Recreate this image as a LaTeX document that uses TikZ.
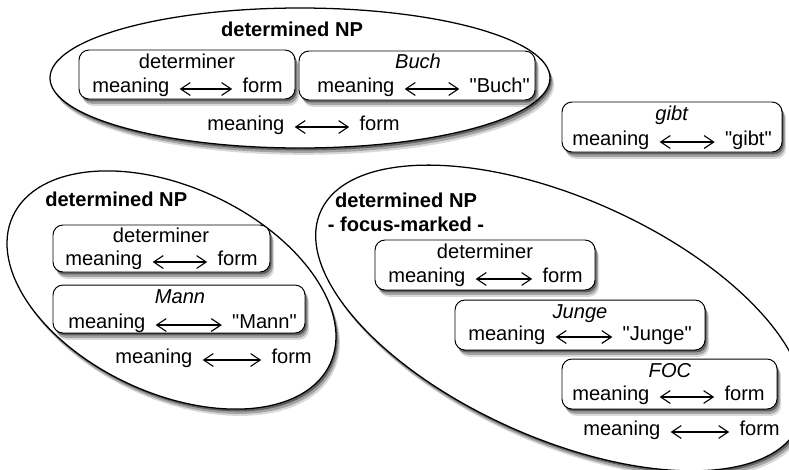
\documentclass[tikz,border=0pt]{standalone}
\usepackage{fontspec}
\setmainfont{Liberation Sans}[Ligatures=TeXOff]
\usetikzlibrary{shapes.geometric,shadows,arrows.meta}

\def\pu{0.025cm}

\tikzset{
  softshadow/.style={
    drop shadow={shadow xshift=1.0mm, shadow yshift=-1.7mm, opacity=0.15, fill=black},
    drop shadow={shadow xshift=0.7mm, shadow yshift=-1.2mm, opacity=0.25, fill=black},
    drop shadow={shadow xshift=0.4mm, shadow yshift=-0.6mm, opacity=0.4, fill=black}},
  blob/.style={ellipse, draw, line width=0.9pt, fill=white, inner sep=0pt, softshadow},
  unitbox/.style={rectangle, draw, rounded corners=10*\pu, line width=0.7pt,
    fill=white, inner sep=0pt, softshadow},
  txt/.style={inner sep=0pt, yshift=-2*\pu, font=\fontsize{14.3}{17}\selectfont},
  head/.style={inner sep=0pt, yshift=-1*\pu, align=center, font=\fontsize{14.3}{17}\selectfont\bfseries},
  lr/.style={{Straight Barb[length=2.4mm,width=3.2mm]}-{Straight Barb[length=2.4mm,width=3.2mm]},
    line width=0.8pt, shorten <=10*\pu, shorten >=10*\pu}
}

\begin{document}
\begin{tikzpicture}[x=\pu, y=-\pu]
\useasboundingbox (0,0) rectangle (789,469);

% top NP
\node[blob, minimum width=500*\pu, minimum height=140*\pu] (E1) at (300,78) {};
\node[head, anchor=mid] (t1) at (292,32) {determined NP};

\node[unitbox, minimum width=216*\pu, minimum height=49*\pu] (b1a) at (187,74.5) {};
\node[txt, anchor=mid] (l1a) at (187,63) {determiner};
\node[txt, anchor=mid west] (m1a) at (92,87) {meaning};
\node[txt, anchor=mid east] (f1a) at (283,87) {form};
\draw[lr] (m1a.mid east) -- (f1a.mid west);

\node[unitbox, minimum width=236*\pu, minimum height=49*\pu] (b1b) at (417,75.5) {};
\node[txt, anchor=mid] (l1b) at (418,63) {\textit{Buch}};
\node[txt, anchor=mid west] (m1b) at (317,87) {meaning};
\node[txt, anchor=mid east] (f1b) at (530,87) {"Buch"};
\draw[lr] (m1b.mid east) -- (f1b.mid west);

\node[txt, anchor=mid west] (m1) at (207,125) {meaning};
\node[txt, anchor=mid east] (f1) at (400,125) {form};
\draw[lr] (m1.mid east) -- (f1.mid west);

% verb
\node[unitbox, minimum width=220*\pu, minimum height=50*\pu] (bv) at (672,127) {};
\node[txt, anchor=mid] (lv) at (672,115) {\textit{gibt}};
\node[txt, anchor=mid west] (mv) at (572,140) {meaning};
\node[txt, anchor=mid east] (fv) at (772,140) {"gibt"};
\draw[lr] (mv.mid east) -- (fv.mid west);

% left NP
\node[blob, rotate=-25, minimum width=350*\pu, minimum height=206*\pu] (E2) at (171.5,290) {};
\node[head, anchor=mid west] (t2) at (45,202) {determined NP};

\node[unitbox, minimum width=217*\pu, minimum height=47*\pu] (b2a) at (161.5,248.5) {};
\node[txt, anchor=mid] (l2a) at (161,237) {determiner};
\node[txt, anchor=mid west] (m2a) at (65,260) {meaning};
\node[txt, anchor=mid east] (f2a) at (258,260) {form};
\draw[lr] (m2a.mid east) -- (f2a.mid west);

\node[unitbox, minimum width=252*\pu, minimum height=48*\pu] (b2b) at (179,309) {};
\node[txt, anchor=mid] (l2b) at (180,298) {\textit{Mann}};
\node[txt, anchor=mid west] (m2b) at (68,323) {meaning};
\node[txt, anchor=mid east] (f2b) at (297,323) {"Mann"};
\draw[lr] (m2b.mid east) -- (f2b.mid west);

\node[txt, anchor=mid west] (m2) at (115,358) {meaning};
\node[txt, anchor=mid east] (f2) at (312,358) {form};
\draw[lr] (m2.mid east) -- (f2.mid west);

% focus-marked NP
\node[blob, rotate=-24, minimum width=524*\pu, minimum height=240*\pu] (E3) at (560,318) {};
\node[head, anchor=center] (t3) at (406,211.5) {determined NP\\- focus-marked -};

\node[unitbox, minimum width=220*\pu, minimum height=50*\pu] (b3a) at (485,265) {};
\node[txt, anchor=mid] (l3a) at (485,253) {determiner};
\node[txt, anchor=mid west] (m3a) at (388,277) {meaning};
\node[txt, anchor=mid east] (f3a) at (583,277) {form};
\draw[lr] (m3a.mid east) -- (f3a.mid west);

\node[unitbox, minimum width=250*\pu, minimum height=50*\pu] (b3b) at (580,325) {};
\node[txt, anchor=mid] (l3b) at (580,313) {\textit{Junge}};
\node[txt, anchor=mid west] (m3b) at (468,335) {meaning};
\node[txt, anchor=mid east] (f3b) at (692,335) {"Junge"};
\draw[lr] (m3b.mid east) -- (f3b.mid west);

\node[unitbox, minimum width=215*\pu, minimum height=50*\pu] (b3c) at (669.5,384) {};
\node[txt, anchor=mid] (l3c) at (670,372) {\textit{FOC}};
\node[txt, anchor=mid west] (m3c) at (572,395) {meaning};
\node[txt, anchor=mid east] (f3c) at (765,395) {form};
\draw[lr] (m3c.mid east) -- (f3c.mid west);

\node[txt, anchor=mid west] (m3) at (583,430) {meaning};
\node[txt, anchor=mid east] (f3) at (780,430) {form};
\draw[lr] (m3.mid east) -- (f3.mid west);
\end{tikzpicture}
\end{document}
